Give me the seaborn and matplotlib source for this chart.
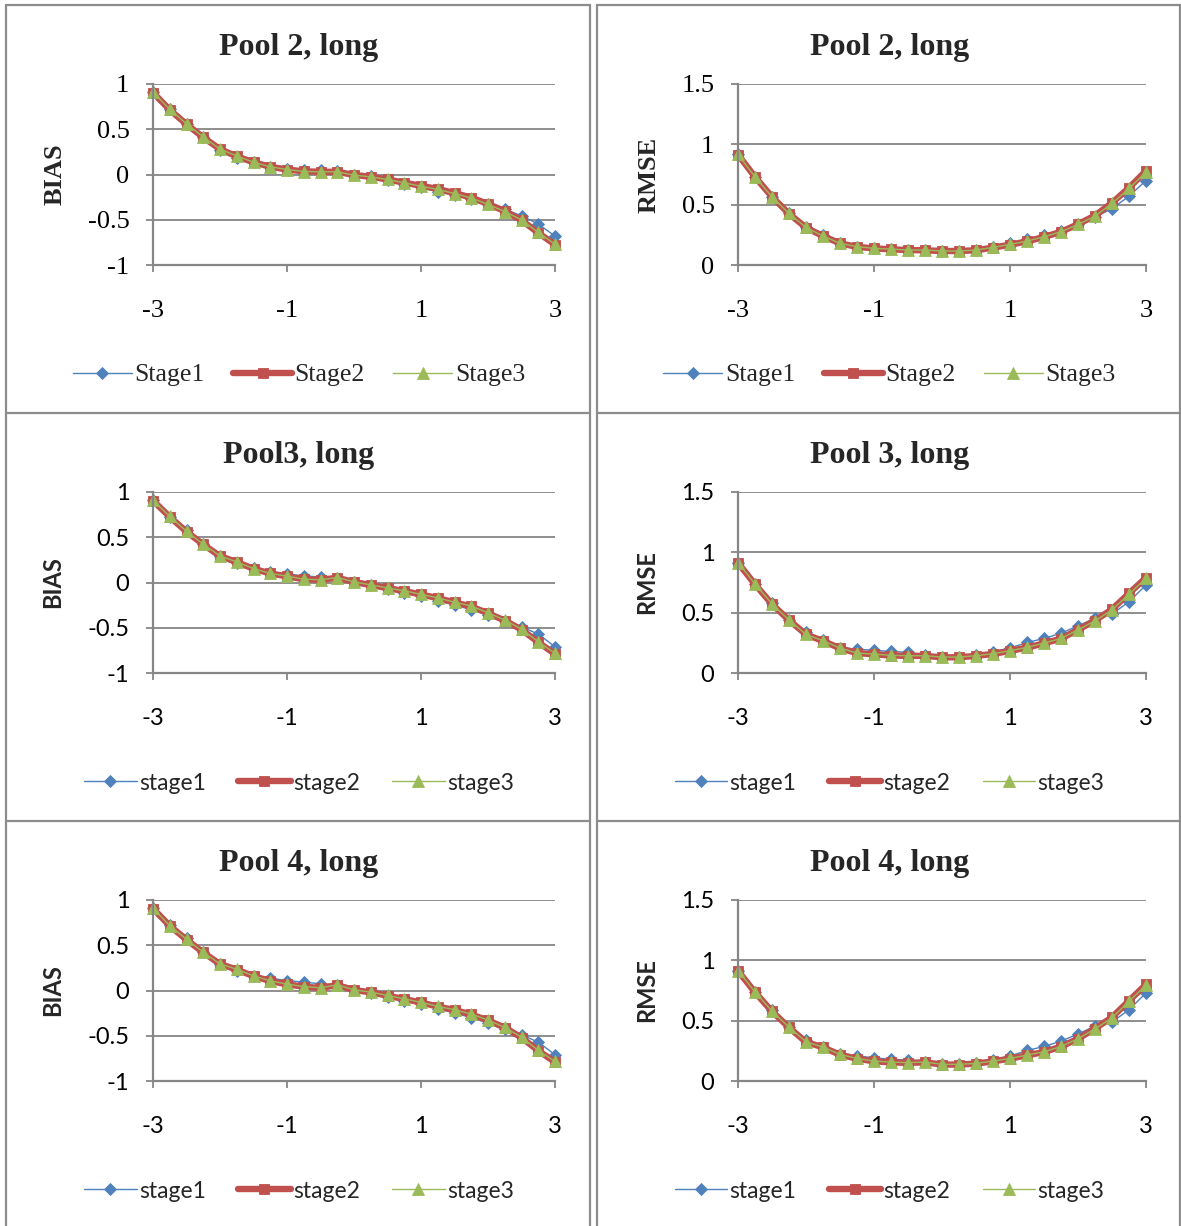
import matplotlib
matplotlib.use("Agg")
import matplotlib.pyplot as plt
from matplotlib.lines import Line2D
import seaborn as sns

# ability grid shared by all panels
theta = [-3.0, -2.75, -2.5, -2.25, -2.0, -1.75, -1.5, -1.25, -1.0, -0.75, -0.5, -0.25,
         0.0, 0.25, 0.5, 0.75, 1.0, 1.25, 1.5, 1.75, 2.0, 2.25, 2.5, 2.75, 3.0]

# Pool 2
pool2_bias_s1 = [0.91, 0.72, 0.56, 0.415, 0.275, 0.185, 0.135, 0.085, 0.06, 0.048, 0.045, 0.035,
                 0.0, -0.02, -0.06, -0.10, -0.143, -0.19, -0.23, -0.275, -0.33, -0.386, -0.455, -0.548, -0.68]
pool2_bias_s2 = [0.905, 0.715, 0.555, 0.41, 0.28, 0.2, 0.135, 0.085, 0.055, 0.035, 0.03, 0.03,
                 -0.005, -0.025, -0.055, -0.09, -0.125, -0.16, -0.205, -0.255, -0.325, -0.405, -0.505, -0.645, -0.775]
pool2_bias_s3 = [0.91, 0.72, 0.56, 0.415, 0.28, 0.205, 0.136, 0.085, 0.055, 0.033, 0.03, 0.03,
                 -0.007, -0.026, -0.055, -0.092, -0.13, -0.165, -0.21, -0.26, -0.33, -0.41, -0.50, -0.64, -0.77]
pool2_rmse_s1 = [0.917, 0.73, 0.565, 0.427, 0.311, 0.245, 0.18, 0.152, 0.14, 0.135, 0.128, 0.126,
                 0.118, 0.118, 0.126, 0.15, 0.18, 0.215, 0.25, 0.285, 0.336, 0.395, 0.468, 0.57, 0.70]
pool2_rmse_s2 = [0.915, 0.73, 0.565, 0.425, 0.31, 0.24, 0.18, 0.15, 0.138, 0.13, 0.124, 0.122,
                 0.116, 0.116, 0.122, 0.144, 0.168, 0.196, 0.232, 0.275, 0.338, 0.41, 0.515, 0.64, 0.78]
pool2_rmse_s3 = [0.917, 0.73, 0.565, 0.427, 0.311, 0.24, 0.18, 0.152, 0.138, 0.132, 0.124, 0.124,
                 0.116, 0.116, 0.124, 0.146, 0.17, 0.198, 0.234, 0.275, 0.336, 0.405, 0.51, 0.634, 0.77]

# Pool 3
pool3_bias_s1 = [0.908, 0.725, 0.575, 0.423, 0.29, 0.215, 0.16, 0.118, 0.092, 0.074, 0.059, 0.055,
                 0.01, -0.03, -0.07, -0.114, -0.15, -0.2, -0.25, -0.3, -0.36, -0.43, -0.49, -0.57, -0.71]
pool3_bias_s2 = [0.905, 0.725, 0.562, 0.42, 0.292, 0.226, 0.152, 0.10, 0.068, 0.036, 0.03, 0.052,
                 0.005, -0.028, -0.062, -0.095, -0.132, -0.172, -0.22, -0.265, -0.34, -0.42, -0.52, -0.66, -0.79]
pool3_bias_s3 = [0.908, 0.73, 0.566, 0.423, 0.294, 0.228, 0.154, 0.10, 0.07, 0.037, 0.03, 0.055,
                 0.007, -0.026, -0.06, -0.092, -0.13, -0.17, -0.217, -0.26, -0.335, -0.415, -0.515, -0.654, -0.783]
pool3_rmse_s1 = [0.915, 0.738, 0.58, 0.44, 0.34, 0.27, 0.21, 0.198, 0.187, 0.179, 0.171, 0.15,
                 0.135, 0.135, 0.15, 0.175, 0.207, 0.253, 0.286, 0.33, 0.39, 0.455, 0.49, 0.59, 0.73]
pool3_rmse_s2 = [0.913, 0.735, 0.57, 0.438, 0.32, 0.265, 0.205, 0.165, 0.155, 0.145, 0.142, 0.142,
                 0.13, 0.13, 0.142, 0.158, 0.183, 0.21, 0.246, 0.285, 0.358, 0.435, 0.528, 0.66, 0.79]
pool3_rmse_s3 = [0.915, 0.738, 0.573, 0.44, 0.32, 0.267, 0.207, 0.165, 0.157, 0.146, 0.143, 0.143,
                 0.132, 0.132, 0.143, 0.16, 0.185, 0.212, 0.248, 0.286, 0.358, 0.432, 0.523, 0.653, 0.785]

# Pool 4
pool4_bias_s1 = [0.908, 0.72, 0.575, 0.423, 0.29, 0.22, 0.165, 0.136, 0.11, 0.092, 0.074, 0.06,
                 0.01, -0.03, -0.07, -0.114, -0.15, -0.2, -0.25, -0.3, -0.36, -0.43, -0.49, -0.57, -0.71]
pool4_bias_s2 = [0.905, 0.715, 0.562, 0.42, 0.292, 0.232, 0.158, 0.105, 0.068, 0.042, 0.028, 0.06,
                 0.005, -0.02, -0.057, -0.095, -0.132, -0.178, -0.215, -0.265, -0.33, -0.41, -0.52, -0.665, -0.79]
pool4_bias_s3 = [0.908, 0.717, 0.566, 0.423, 0.294, 0.235, 0.162, 0.107, 0.07, 0.044, 0.03, 0.063,
                 0.007, -0.018, -0.055, -0.092, -0.13, -0.176, -0.212, -0.26, -0.327, -0.408, -0.515, -0.662, -0.783]
pool4_rmse_s1 = [0.915, 0.738, 0.585, 0.446, 0.34, 0.285, 0.225, 0.207, 0.193, 0.179, 0.174, 0.16,
                 0.14, 0.14, 0.15, 0.175, 0.207, 0.253, 0.286, 0.33, 0.39, 0.455, 0.49, 0.59, 0.73]
pool4_rmse_s2 = [0.913, 0.735, 0.577, 0.444, 0.323, 0.279, 0.218, 0.185, 0.163, 0.155, 0.15, 0.155,
                 0.136, 0.136, 0.144, 0.163, 0.185, 0.213, 0.24, 0.285, 0.35, 0.435, 0.528, 0.665, 0.80]
pool4_rmse_s3 = [0.915, 0.738, 0.579, 0.446, 0.325, 0.281, 0.22, 0.187, 0.165, 0.157, 0.152, 0.157,
                 0.138, 0.138, 0.146, 0.165, 0.187, 0.215, 0.242, 0.286, 0.35, 0.432, 0.523, 0.661, 0.793]

x_ticks = [-3, -1, 1, 3]
x_tick_labels = ["-3", "-1", "1", "3"]
bias_ticks = [-1, -0.5, 0, 0.5, 1]
bias_tick_labels = ["-1", "-0.5", "0", "0.5", "1"]
rmse_ticks = [0, 0.5, 1, 1.5]
rmse_tick_labels = ["0", "0.5", "1", "1.5"]

titles = [["Pool 2, long", "Pool 2, long"],
          ["Pool3, long", "Pool 3, long"],
          ["Pool 4, long", "Pool 4, long"]]
legend_labels = [["Stage1", "Stage2", "Stage3"],
                 ["stage1", "stage2", "stage3"],
                 ["stage1", "stage2", "stage3"]]
bias_series = [(pool2_bias_s1, pool2_bias_s2, pool2_bias_s3),
               (pool3_bias_s1, pool3_bias_s2, pool3_bias_s3),
               (pool4_bias_s1, pool4_bias_s2, pool4_bias_s3)]
rmse_series = [(pool2_rmse_s1, pool2_rmse_s2, pool2_rmse_s3),
               (pool3_rmse_s1, pool3_rmse_s2, pool3_rmse_s3),
               (pool4_rmse_s1, pool4_rmse_s2, pool4_rmse_s3)]

sns.set_theme(style="white")
plt.rcParams["axes.unicode_minus"] = False

SERIF = ["Liberation Serif", "DejaVu Serif"]
SANS = ["Lato", "DejaVu Sans"]

BLUE, RED, GREEN = "#4F81BD", "#C0504D", "#9BBB59"
GRID = "#868686"
BORDER = "#8C8C8C"

W, H = 1181, 1226
fig = plt.figure(figsize=(W / 100, H / 100), dpi=100)


def px_axes(left, top, right, bottom):
    return fig.add_axes([left / W, 1 - bottom / H, (right - left) / W, (bottom - top) / H])


# table cell borders
cells = [(6, 590), (597, 1180)]
for x0, x1 in cells:
    for yy in [5, 413, 821]:
        fig.add_artist(Line2D([x0 / W, x1 / W], [1 - yy / H, 1 - yy / H], color=BORDER, lw=1.6))
    for xx in (x0, x1):
        fig.add_artist(Line2D([xx / W, xx / W], [1 - 5 / H, 0], color=BORDER, lw=1.6))

col_x = [(153, 555), (738, 1146)]
ylabel_right = [63, 657]
row_offset = [0, 408, 816]

styles = [
    dict(color=BLUE, marker="D", linewidth=1.0, markersize=5.8),
    dict(color=RED, marker="s", linewidth=4.6, markersize=7.5),
    dict(color=GREEN, marker="^", linewidth=1.0, markersize=9.0),
]

for r in range(3):
    off = row_offset[r]
    tick_font = SERIF if r == 0 else SANS
    for c in range(2):
        left, right = col_x[c]
        top, bottom = 84 + off, 265 + off
        ax = px_axes(left, top, right, bottom)
        series = bias_series[r] if c == 0 else rmse_series[r]
        for vals, st, lab in zip(series, styles, legend_labels[r]):
            sns.lineplot(x=theta, y=vals, ax=ax, label=lab, markeredgecolor=st["color"],
                         markeredgewidth=0.6, clip_on=False, **st)
        ax.set_xlim(-3, 3)
        if c == 0:
            ax.set_ylim(-1, 1)
            ax.set_yticks(bias_ticks)
            ax.set_yticklabels(bias_tick_labels)
            ylab = "BIAS"
        else:
            ax.set_ylim(0, 1.5)
            ax.set_yticks(rmse_ticks)
            ax.set_yticklabels(rmse_tick_labels)
            ylab = "RMSE"
        ax.set_xticks(x_ticks)
        ax.set_xticklabels(x_tick_labels)
        ax.grid(axis="y", color=GRID, lw=1.3)
        ax.grid(axis="x", visible=False)
        ax.set_axisbelow(True)
        for side in ("top", "right"):
            ax.spines[side].set_visible(False)
        for side in ("left", "bottom"):
            ax.spines[side].set_color(GRID)
            ax.spines[side].set_linewidth(1.6)
        fs_tick = 19 if r == 0 else 17
        ax.tick_params(axis="y", which="major", direction="out", length=5, width=1.3,
                       color=GRID, pad=12, left=True, labelsize=fs_tick)
        ax.tick_params(axis="x", which="major", direction="out", length=5, width=1.3,
                       color=GRID, pad=20, bottom=True, labelsize=fs_tick)
        for t in ax.get_xticklabels() + ax.get_yticklabels():
            t.set_family(tick_font)
            t.set_color("black")
        if r == 0:
            ax.set_ylabel(ylab, family=SERIF, fontweight="bold", fontsize=19)
            lab_x = ylabel_right[c] + 4
        else:
            ax.set_ylabel(ylab, family=SANS, fontweight="bold", fontsize=17)
            lab_x = ylabel_right[c] + 1
        ax.set_xlabel("")
        ax.yaxis.set_label_coords((lab_x - left) / (right - left), 0.5)

        cx = (cells[c][0] + cells[c][1]) / 2 + 1
        fig.text(cx / W, 1 - (55 + off) / H, titles[r][c], family=SERIF, fontweight="bold",
                 fontsize=23, ha="center", va="baseline")

        leg_font = dict(family=SERIF, size=18.5) if r == 0 else dict(family=SANS, size=16.5)
        handles, labels = ax.get_legend_handles_labels()
        ax.legend(handles, labels, loc="center", ncol=3, frameon=False,
                  bbox_to_anchor=(cx / W, 1 - (375 + off) / H), bbox_transform=fig.transFigure,
                  prop=leg_font, handlelength=2.3, handletextpad=0.1,
                  columnspacing=1.1 if r == 0 else 1.4, borderaxespad=0)

fig.savefig("out.png", dpi=100, facecolor="white")
